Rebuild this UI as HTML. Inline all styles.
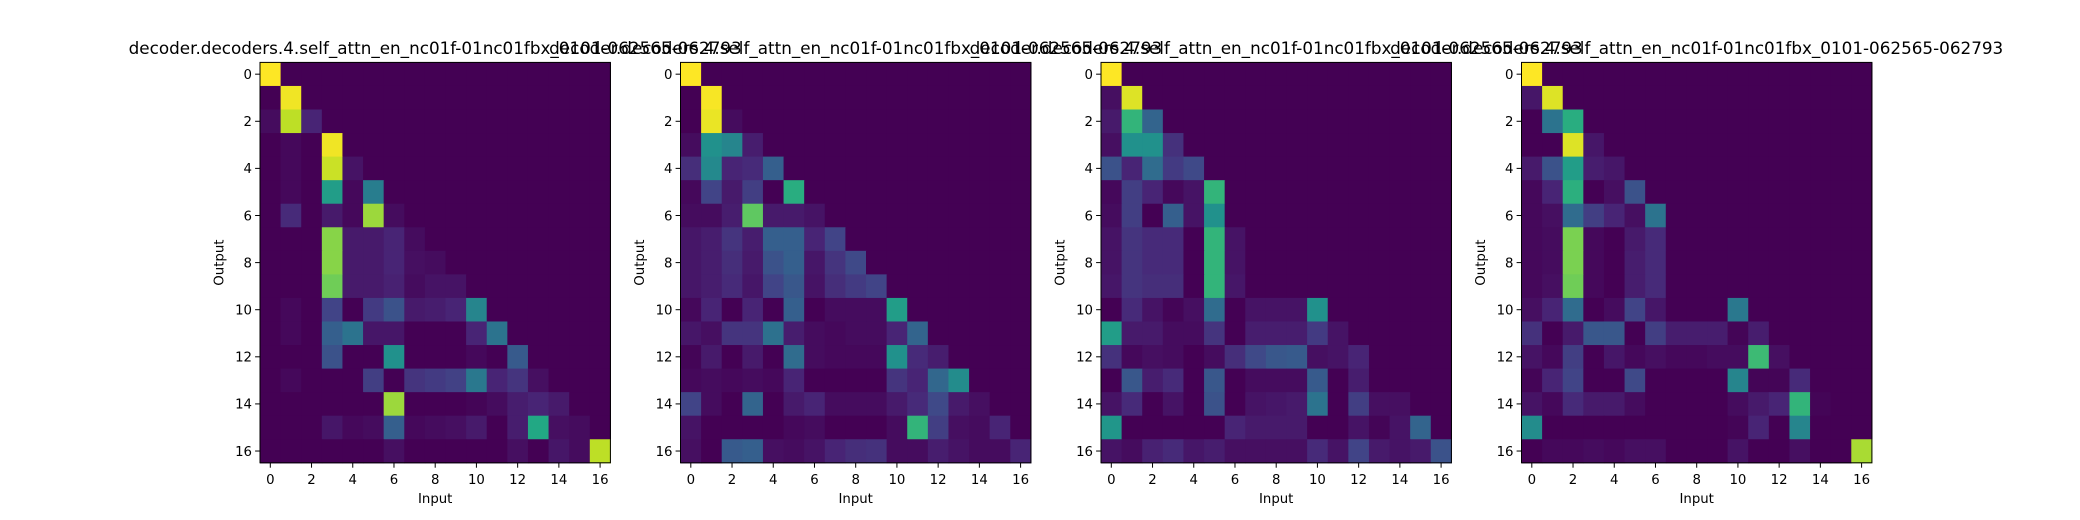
<!DOCTYPE html>
<html><head><meta charset="utf-8"><style>
html,body{margin:0;padding:0;background:#fff;}
svg{display:block;font-family:"DejaVu Sans","Liberation Sans",sans-serif;}
</style></head><body>
<svg id="fig" width="2080" height="520" viewBox="0 0 2080 520" xmlns="http://www.w3.org/2000/svg"></svg>
<script>
const titles = [
 "decoder.decoders.4.self_attn_en_nc01f-01nc01fbx_0101-062565-062793",
 "decoder.decoders.4.self_attn_en_nc01f-01nc01fbx_0101-062565-062793",
 "decoder.decoders.4.self_attn_en_nc01f-01nc01fbx_0101-062565-062793",
 "decoder.decoders.4.self_attn_en_nc01f-01nc01fbx_0101-062565-062793"
];
const tickLabels = [0,2,4,6,8,10,12,14,16];
const attn1 = [
[1],[0,.98],[.03,.9,.1],[0,.02,0,.98],[0,.02,0,.92,.05],[0,.02,0,.55,.02,.42],
[0,.12,0,.07,.02,.85,.03],[0,0,0,.82,.07,.07,.1,.03],[0,0,0,.82,.07,.07,.1,.04,.03],
[0,0,0,.78,.07,.07,.09,.03,.05,.05],[0,.02,0,.2,0,.17,.25,.07,.08,.1,.45],
[0,.02,0,.3,.38,.06,.06,0,0,0,.1,.38],[0,0,0,.25,0,0,.5,0,0,0,.02,0,.28],
[0,.02,0,0,0,.18,0,.15,.17,.19,.4,.1,.15,.04],[0,0,0,0,0,0,.85,0,0,0,.01,.03,.08,.1,.07],
[0,0,0,.06,.02,.03,.3,.02,.03,.04,.07,0,.08,.6,.04,.03],[0,0,0,0,0,0,.04,0,0,0,0,0,.04,0,.06,.03,.9]
];
const attn2 = [
[1],[0,.99],[0,.97,.03],[.03,.5,.45,.08],[.13,.47,.1,.12,.3],[.02,.2,.07,.18,0,.62],
[.03,.03,.08,.75,.07,.07,.05],[.06,.08,.15,.08,.3,.3,.1,.2],[.06,.08,.13,.07,.25,.3,.06,.15,.22],
[.06,.08,.12,.06,.2,.27,.05,.13,.17,.2],[.02,.1,0,.1,0,.3,0,.03,.03,.03,.55],
[.06,.04,.15,.15,.37,.08,.03,.02,.03,.03,.1,.32],[.01,.07,0,.07,0,.35,.03,.02,.02,.02,.5,.12,.08],
[.02,.03,.02,.03,.02,.1,0,0,0,0,.15,.1,.33,.48],[.2,.03,0,.32,0,.07,.1,.03,.03,.03,.07,.12,.22,.07,.04],
[.05,0,0,0,0,.02,.03,0,0,0,.03,.65,.18,.04,.03,.1],[.04,0,.28,.3,.04,.03,.05,.1,.13,.14,.03,.03,.08,.05,.03,.03,.1]
];
const attn3 = [
[1],[.04,.95],[.07,.65,.32],[.04,.5,.5,.14],[.25,.1,.35,.17,.22],[.02,.18,.1,.02,.05,.65],
[.03,.18,0,.3,.05,.5],[.05,.15,.12,.12,0,.65,.05],[.05,.15,.12,.12,0,.65,.05],
[.06,.15,.13,.13,0,.65,.06],[0,.12,.05,.01,.04,.35,0,.05,.05,.05,.5],
[.55,.07,.07,.03,.03,.15,0,.08,.08,.08,.17,.05],[.14,.02,.04,.03,0,.03,.13,.22,.27,.28,.04,.05,.1],
[0,.27,.08,.12,0,.27,0,.03,.03,.03,.28,0,.08],[.05,.12,0,.05,0,.25,0,.05,.06,.07,.38,0,.18,.04,.04],
[.52,0,0,0,0,0,.1,.07,.07,.07,0,0,.05,.01,.05,.32],[.05,.03,.09,.12,.06,.08,.04,.04,.04,.04,.12,.05,.2,.07,.05,.07,.25]
];
const attn4 = [
[1],[.06,.95],[0,.38,.62],[0,0,.95,.06],[.07,.25,.55,.08,.06],[.02,.1,.63,0,.04,.25],
[.02,.04,.35,.18,.1,.04,.38],[.02,.03,.8,.02,0,.07,.12],[.02,.03,.8,.02,0,.08,.12],
[.02,.04,.78,.02,0,.08,.12],[.04,.1,.35,0,.03,.2,.06,0,0,0,.4],
[.14,0,.07,.27,.27,0,.18,.08,.08,.08,.01,.08],[.05,.02,.18,0,.06,.02,.04,.02,.02,.03,.03,.68,.04],
[.01,.1,.2,0,0,.22,0,0,0,0,.45,.01,.01,.12],[.05,.02,.12,.07,.07,.03,0,0,0,0,.03,.07,.1,.65,.01],
[.48,0,0,0,0,0,0,0,0,0,.01,.1,0,.45],[0,.02,.02,.03,.02,.04,.04,0,0,0,.05,0,0,.04,0,0,.87]
];
const matrices = [attn1, attn2, attn3, attn4];

const vstops = ["#440154","#482475","#414487","#355f8d","#2a788e","#21918c","#22a884","#44bf70","#7ad151","#bddf26","#fde725"];
function hex2rgb(h){return [1,3,5].map(i=>parseInt(h.substr(i,2),16));}
function viridis(t){
  t=Math.max(0,Math.min(1,t));
  const p=t*10, i=Math.min(9,Math.floor(p)), f=p-i;
  const a=hex2rgb(vstops[i]), b=hex2rgb(vstops[i+1]);
  return "rgb("+a.map((v,k)=>Math.round(v+(b[k]-v)*f)).join(",")+")";
}
const NS="http://www.w3.org/2000/svg";
const svg=document.getElementById("fig");
function mk(tag,attrs,parent){const e=document.createElementNS(NS,tag);for(const k in attrs)e.setAttribute(k,attrs[k]);(parent||svg).appendChild(e);return e;}

const N=17, axW=350.4, axH=400.4, top0=62.4, left0=260, gap=420.5;
matrices.forEach((m,p)=>{
  const x0=left0+p*gap;
  const g=mk("g",{});
  
  
  const cw=axW/N, ch=axH/N;
  const sx=c=>x0+c*cw, sy=r=>top0+r*ch;
  for(let r=0;r<N;r++){for(let c=0;c<N;c++){
    const v=(m[r]&&m[r][c])||0;
    const rc=mk("rect",{x:sx(c),y:sy(r),width:cw+0.6,height:ch+0.6,fill:viridis(v)},g);
    
    
  }}
  const fr=mk("rect",{x:x0,y:top0,width:axW,height:axH,fill:"none",stroke:"#000","stroke-width":1},g);
  
  
  tickLabels.forEach(t=>{
    const tx=sx(t+0.5), ty=sy(t+0.5);
    mk("line",{x1:tx,y1:top0+axH,x2:tx,y2:top0+axH+4.9,stroke:"#000","stroke-width":1},g);
    const xl=mk("text",{x:tx,y:top0+axH+21,"font-size":"13.3","text-anchor":"middle",fill:"#000"},g);
    xl.textContent=t;
    
    
    mk("line",{x1:x0,y1:ty,x2:x0-4.9,y2:ty,stroke:"#000","stroke-width":1},g);
    const yl=mk("text",{x:x0-8,y:ty+4.8,"font-size":"13.3","text-anchor":"end",fill:"#000"},g);
    yl.textContent=t;
    
    
  });
  const xt=mk("text",{x:x0+axW/2,y:503,"font-size":"13.3","text-anchor":"middle",fill:"#000"},g);
  xt.textContent="Input";
  
  
  const ycx=x0-36.6, ycy=top0+axH/2;
  const yt=mk("text",{x:ycx,y:ycy,"font-size":"13.3","text-anchor":"middle",fill:"#000",transform:"rotate(-90 "+ycx+" "+ycy+")"},g);
  yt.textContent="Output";
  
  
  const tt=mk("text",{x:x0+axW/2,y:54,"font-size":"16.8","text-anchor":"middle",fill:"#000"},g);
  tt.textContent=titles[p];
  
  
});
</script>
</body></html>
